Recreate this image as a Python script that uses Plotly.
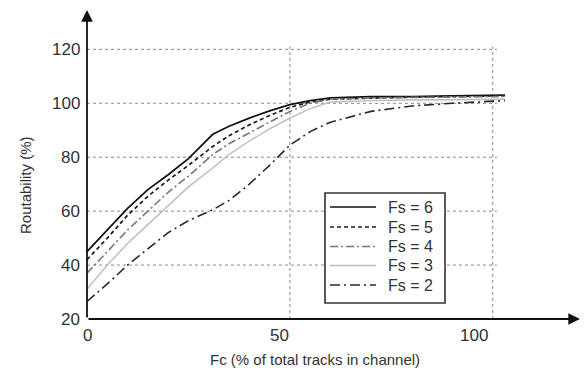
import plotly.graph_objects as go

fc = [0, 5, 10, 15, 20, 25, 31, 35, 40, 45, 50, 55, 60, 70, 80, 90, 103]
fs6 = [45, 53, 61, 68, 73.5, 79.5, 88.5, 91.5, 94.5, 97.2, 99.5, 101, 102, 102.5, 102.5, 102.8, 103]
fs5 = [42, 50, 58.5, 65.5, 71.5, 77, 84, 88, 92, 95.5, 98.5, 100.5, 101.5, 102, 102.3, 102.5, 102.8]
fs4 = [37, 45, 53, 60, 67, 73, 81, 85, 89, 93, 97, 100, 101.5, 102, 102.2, 102.3, 102.5]
fs3 = [31, 40, 48, 55, 62, 69, 76, 81, 86, 90.5, 94.5, 98, 100.5, 101, 101.2, 101.4, 101.5]
fs2 = [26.5, 33, 40, 46, 52, 56.5, 60.5, 64, 70, 77, 84.5, 89.5, 93, 97, 99, 100, 101]

y_ticks = [20, 40, 60, 80, 100, 120]
x_ticks = [0, 50, 100]
x_tick_shift = [0, -10, -19]
names = ["Fs = 6", "Fs = 5", "Fs = 4", "Fs = 3", "Fs = 2"]

series = [fs6, fs5, fs4, fs3, fs2]
styles = [
    dict(color="#111111", dash="solid", width=1.7),
    dict(color="#1a1a1a", dash="4px,3px", width=1.7),
    dict(color="#777777", dash="8px,3px,2px,3px", width=1.6),
    dict(color="#bbbbbb", dash="solid", width=1.4),
    dict(color="#2a2a2a", dash="10px,4px,2px,4px", width=1.6),
]

# plot-area geometry in pixels (used to place the hand-drawn legend)
L, R, T, B = 87, 580, 10, 319
W, H = R - L, B - T


def px_x(p):
    return (p - L) / W


def px_y(p):
    return (B - p) / H


fig = go.Figure()
for name, ys, st in zip(names, series, styles):
    fig.add_trace(go.Scatter(x=fc, y=ys, mode="lines", name=name, line=st, showlegend=False))

XMAX = 121.5
YMAX = 134.6
grid = dict(color="#8a8a8a", width=1, dash="dot")
for yv in y_ticks[1:]:
    fig.add_shape(type="line", x0=0, x1=101, y0=yv, y1=yv, line=grid, layer="below")
for xv in x_ticks[1:]:
    fig.add_shape(type="line", x0=xv, x1=xv, y0=20, y1=121, line=grid, layer="below")

# axes with arrows
fig.add_annotation(x=XMAX, y=20, ax=0, ay=20, axref="x", ayref="y", xref="x", yref="y",
                   showarrow=True, arrowhead=2, arrowsize=1.3, arrowwidth=1.8,
                   arrowcolor="#111111", text="")
fig.add_annotation(x=0, y=YMAX, ax=0, ay=20, axref="x", ayref="y", xref="x", yref="y",
                   showarrow=True, arrowhead=2, arrowsize=1.3, arrowwidth=1.8,
                   arrowcolor="#111111", text="")

FONT = "Liberation Sans, Arial, sans-serif"
tick_font = dict(family=FONT, size=17, color="#333333")
for yv in y_ticks:
    fig.add_annotation(x=0, y=yv, xref="x", yref="y", text=str(yv), showarrow=False,
                       xanchor="right", yanchor="middle", xshift=-5, font=tick_font)
for xv, sh in zip(x_ticks, x_tick_shift):
    fig.add_annotation(x=xv, y=20, xref="x", yref="y", text=str(xv), showarrow=False,
                       xanchor="center", yanchor="top", yshift=-5, xshift=sh, font=tick_font)

fig.add_annotation(x=px_x(315), y=px_y(359), xref="paper", yref="paper",
                   text="Fc (% of total tracks in channel)", showarrow=False,
                   xanchor="center", yanchor="middle",
                   font=dict(family=FONT, size=15, color="#333333"))
fig.add_annotation(x=px_x(25), y=px_y(185), xref="paper", yref="paper",
                   text="Routability (%)", showarrow=False, textangle=-90,
                   xanchor="center", yanchor="middle",
                   font=dict(family=FONT, size=15, color="#333333"))

# legend box (drawn by hand to match the compact row spacing)
fig.add_shape(type="rect", xref="paper", yref="paper",
              x0=px_x(325), x1=px_x(445), y0=px_y(303), y1=px_y(193),
              line=dict(color="#333333", width=1.6), fillcolor="white", layer="above")
rows = [207, 227, 246.5, 265.5, 285]
for name, st, ry in zip(names, styles, rows):
    fig.add_shape(type="line", xref="paper", yref="paper",
                  x0=px_x(330), x1=px_x(376), y0=px_y(ry), y1=px_y(ry),
                  line=st, layer="above")
    fig.add_annotation(x=px_x(386), y=px_y(ry), xref="paper", yref="paper", text=name,
                       showarrow=False, xanchor="left", yanchor="middle",
                       font=dict(family=FONT, size=16, color="#333333"))

fig.update_layout(
    width=584, height=374,
    margin=dict(l=L, r=584 - R, t=T, b=374 - B),
    paper_bgcolor="white", plot_bgcolor="white",
    xaxis=dict(range=[0, XMAX], showgrid=False, zeroline=False, showticklabels=False,
               showline=False, ticks=""),
    yaxis=dict(range=[20, YMAX], showgrid=False, zeroline=False, showticklabels=False,
               showline=False, ticks=""),
    showlegend=False,
)

fig.write_html("out.html", config={"displayModeBar": False},
               post_script="document.body.style.margin='0px';")
